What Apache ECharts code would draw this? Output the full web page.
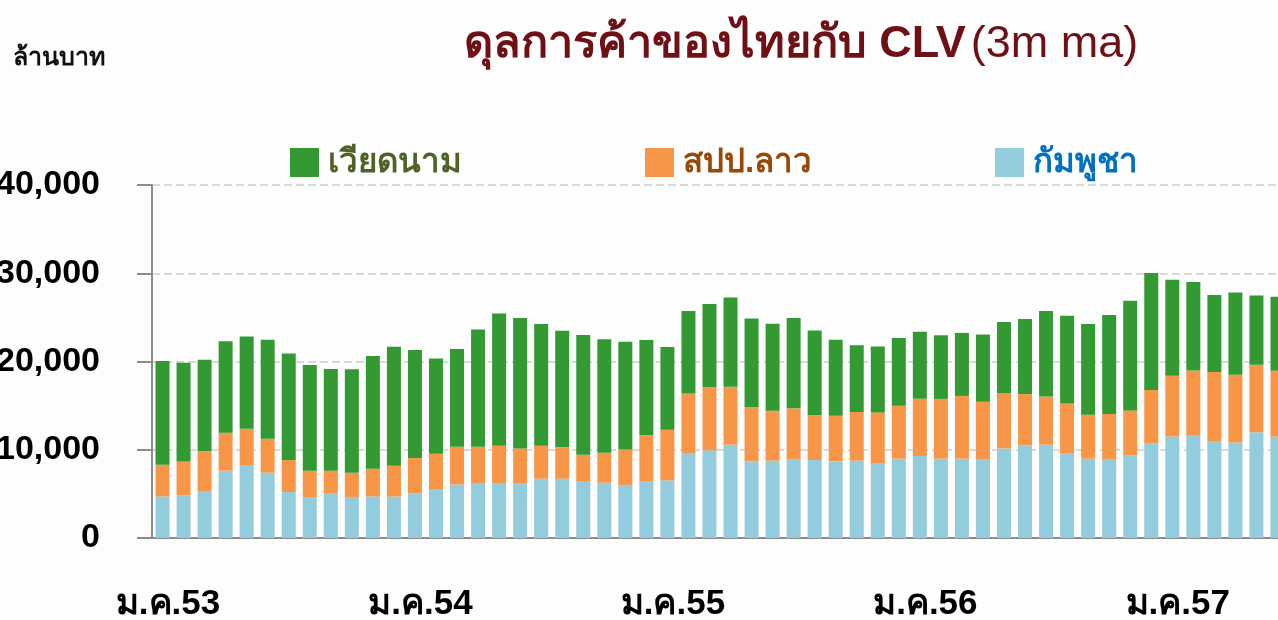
<!DOCTYPE html>
<html>
<head>
<meta charset="utf-8">
<script src="https://cdn.jsdelivr.net/npm/echarts@6/dist/echarts.min.js"></script>
<style>
  html, body { margin: 0; padding: 0; background: #fdfdfd; }
  #chart { width: 1278px; height: 620px; }
</style>
</head>
<body>
<div id="chart"></div>
<script>
// เดือน / ปี (พ.ศ. 2 หลัก) สำหรับแกน x
const months = ['ม.ค.', 'ก.พ.', 'มี.ค.', 'เม.ย.', 'พ.ค.', 'มิ.ย.', 'ก.ค.', 'ส.ค.', 'ก.ย.', 'ต.ค.', 'พ.ย.', 'ธ.ค.'];
const years = ['53', '54', '55', '56', '57'];
const barCount = 54; // ม.ค.53 - มิ.ย.57

// ล้านบาท, ค่าเฉลี่ยเคลื่อนที่ 3 เดือน
const cambodia = [4710, 4830, 5250, 7630, 8190, 7400, 5210, 4570, 5100, 4650, 4710, 4700,
  5050, 5550, 6070, 6150, 6230, 6230, 6720, 6720, 6380, 6270, 6010, 6460,
  6530, 9550, 9930, 10570, 8680, 8760, 8910, 8840, 8680, 8760, 8500, 8990,
  9290, 8990, 8990, 8950, 10150, 10490, 10570, 9630, 8990, 8910, 9330, 10690,
  11510, 11590, 10990, 10830, 11970, 11480];
const laos = [3590, 3850, 4570, 4310, 4190, 3850, 3630, 3060, 2530, 2750, 3140, 3490,
  4010, 4000, 4270, 4190, 4230, 3920, 3740, 3550, 3060, 3400, 4030, 5170,
  5750, 6830, 7180, 6570, 6160, 5670, 5780, 5060, 5180, 5520, 5730, 6000,
  6490, 6770, 7110, 6490, 6280, 5820, 5470, 5620, 4990, 5140, 5130, 6090,
  6880, 7400, 7820, 7670, 7670, 7480];
const vietnam = [11750, 11180, 10390, 10350, 10460, 11220, 12080, 11980, 11520, 11710, 12770, 13480,
  12240, 10800, 11070, 13290, 14990, 14780, 13790, 13220, 13560, 12840, 12200, 10810,
  9370, 9340, 9410, 10120, 10040, 9860, 10240, 9600, 8610, 7550, 7480, 7670,
  7590, 7210, 7140, 7630, 8050, 8500, 9680, 9940, 10280, 11220, 12430, 13260,
  10880, 10020, 8730, 9330, 7850, 8390];
const yTicks = [0, 10000, 20000, 30000, 40000];

const categories = [];
for (let i = 0; i < barCount; i++) {
  categories.push(months[i % 12] + years[Math.floor(i / 12)]);
}

const chart = echarts.init(document.getElementById('chart'));
const font = "'Liberation Sans', Arial, sans-serif";
const axisGray = '#8c8c8c';

const legendBase = {
  top: 146,
  padding: 0,
  itemWidth: 29,
  itemHeight: 29,
  itemGap: 0,
  icon: 'rect',
  selectedMode: false,
  textStyle: { fontSize: 33, fontWeight: 'bold', fontFamily: font, padding: [0, 0, 0, 4] },
};

const option = {
  backgroundColor: '#fdfdfd',
  animation: false,
  title: [
    {
      text: '{b|ดุลการค้าของไทยกับ CLV} {r|(3m ma)}',
      left: 796,
      textAlign: 'center',
      top: 17,
      textStyle: {
        rich: {
          b: { fontSize: 45, fontWeight: 'bold', color: '#6e1016', fontFamily: font },
          r: { fontSize: 45, fontWeight: 'normal', color: '#6e1016', fontFamily: font },
        },
      },
    },
    {
      text: 'ล้านบาท',
      left: 8,
      top: 41,
      textStyle: { fontSize: 25, fontWeight: 'bold', color: '#111', fontFamily: font },
    },
  ],
  legend: [
    Object.assign({}, legendBase, {
      left: 290, data: ['เวียดนาม'],
      textStyle: Object.assign({}, legendBase.textStyle, { color: '#4f6228' }),
    }),
    Object.assign({}, legendBase, {
      left: 645, data: ['สปป.ลาว'],
      textStyle: Object.assign({}, legendBase.textStyle, { color: '#984807' }),
    }),
    Object.assign({}, legendBase, {
      left: 995, data: ['กัมพูชา'],
      textStyle: Object.assign({}, legendBase.textStyle, { color: '#0070c0' }),
    }),
  ],
  grid: {
    left: 152,
    top: 185,
    width: 1136,
    height: 353,
    containLabel: false,
    outerBoundsMode: 'none',
  },
  xAxis: {
    type: 'category',
    data: categories,
    boundaryGap: true,
    axisLine: { lineStyle: { color: axisGray, width: 2 } },
    axisTick: { interval: 0, length: 15, lineStyle: { color: axisGray, width: 2 } },
    axisLabel: {
      interval: (idx) => idx % 12 === 0,
      margin: 49,
      padding: [0, 0, 0, 11],
      fontSize: 35,
      fontWeight: 'bold',
      color: '#000',
      fontFamily: font,
    },
    splitLine: { show: false },
  },
  yAxis: {
    type: 'value',
    min: yTicks[0],
    max: yTicks[yTicks.length - 1],
    interval: 10000,
    axisLine: { show: true, lineStyle: { color: axisGray, width: 2 } },
    axisTick: { show: true, length: 15, lineStyle: { color: axisGray, width: 2 } },
    axisLabel: {
      margin: 52,
      fontSize: 34,
      fontWeight: 'bold',
      color: '#000',
      fontFamily: font,
      formatter: (v) => v.toLocaleString('en-US'),
    },
    splitLine: { lineStyle: { color: '#d9d9d9', type: 'dashed', width: 2 } },
  },
  series: [
    {
      name: 'กัมพูชา',
      type: 'bar',
      stack: 'clv',
      barWidth: 14,
      data: cambodia,
      itemStyle: { color: '#93cddd' },
    },
    {
      name: 'สปป.ลาว',
      type: 'bar',
      stack: 'clv',
      barWidth: 14,
      data: laos,
      itemStyle: { color: '#f79646' },
    },
    {
      name: 'เวียดนาม',
      type: 'bar',
      stack: 'clv',
      barWidth: 14,
      data: vietnam,
      itemStyle: { color: '#339933' },
    },
  ],
};

chart.setOption(option);
</script>
</body>
</html>
